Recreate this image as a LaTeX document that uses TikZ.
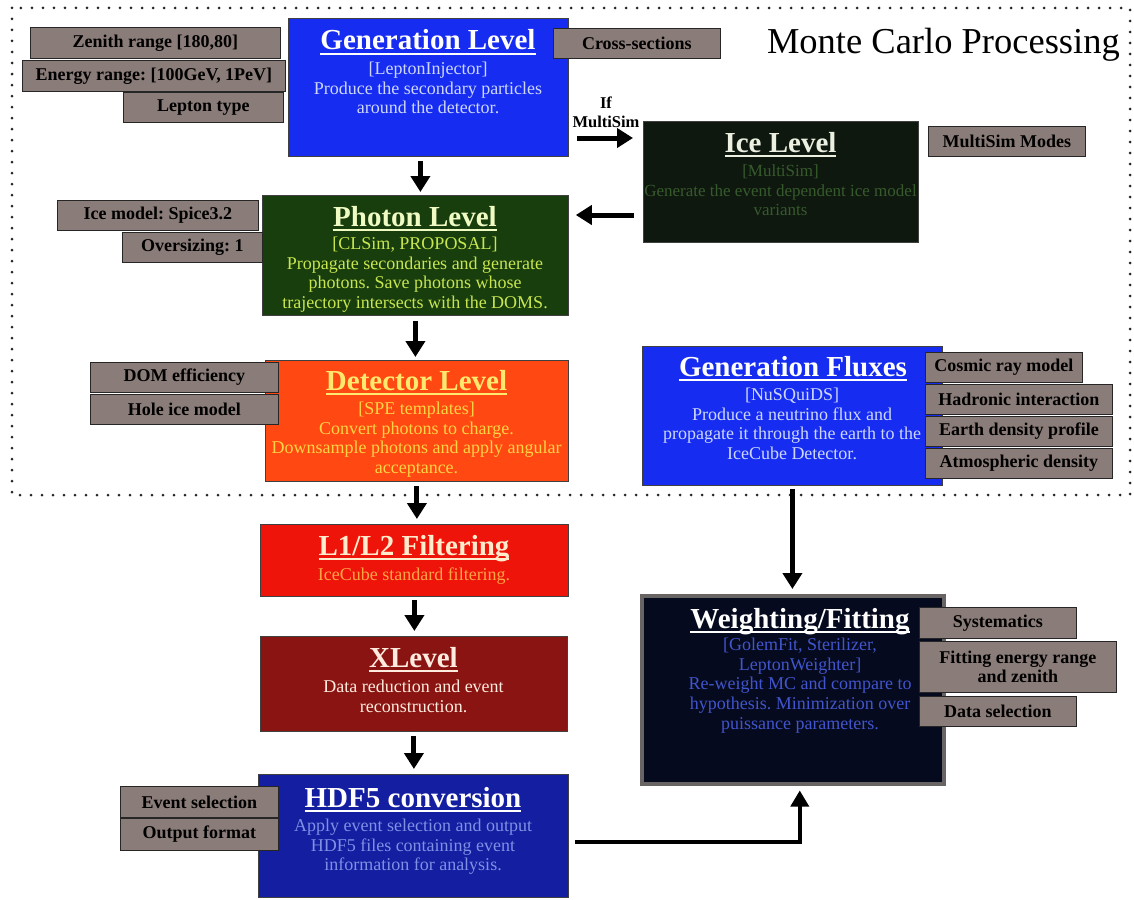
\documentclass[tikz,border=0pt]{standalone}
\usepackage{fontspec}
\setmainfont{Liberation Serif}
\frenchspacing
\usetikzlibrary{arrows.meta}
\definecolor{tagc}{RGB}{138,124,120}
\definecolor{genblue}{RGB}{22,44,240}
\definecolor{genbody}{RGB}{205,215,255}
\definecolor{icebg}{RGB}{14,24,14}
\definecolor{icetl}{RGB}{235,240,225}
\definecolor{icebody}{RGB}{55,90,45}
\definecolor{phbg}{RGB}{24,62,14}
\definecolor{phtl}{RGB}{240,250,195}
\definecolor{phbody}{RGB}{200,230,80}
\definecolor{detbg}{RGB}{255,72,18}
\definecolor{dettl}{RGB}{255,232,110}
\definecolor{detbody}{RGB}{255,212,70}
\definecolor{lbg}{RGB}{238,20,10}
\definecolor{ltl}{RGB}{255,236,205}
\definecolor{lbody}{RGB}{255,165,70}
\definecolor{xbg}{RGB}{138,20,18}
\definecolor{xtl}{RGB}{255,236,222}
\definecolor{hbg}{RGB}{20,30,160}
\definecolor{hbody}{RGB}{125,145,230}
\definecolor{wbg}{RGB}{6,10,30}
\definecolor{wborder}{RGB}{105,100,100}
\definecolor{wbody}{RGB}{65,85,205}
\newcommand\ttlfont{\fontsize{29}{32}\selectfont\bfseries}
\newcommand\bdyfont{\fontsize{18}{19.8}\selectfont}
\newcommand\icefont{\fontsize{17}{19.8}\selectfont}
\newcommand\tagfont{\fontsize{18}{19}\selectfont\bfseries}
\newcommand\ulx[1]{\setbox0=\hbox{#1}\rlap{\copy0}\rule[-4.5pt]{\wd0}{2pt}}
\newcommand\fl{\rule{0pt}{14pt}}
\tikzset{
  boxx/.style={draw=black!75, line width=0.8pt, anchor=north west, inner sep=0pt},
  tagx/.style={draw=black!85, line width=0.8pt, fill=tagc, anchor=north west, font=\tagfont, align=center, inner sep=0pt, text=black},
  ttl/.style={anchor=base, inner sep=0pt, font=\ttlfont},
  bdy/.style={anchor=north, inner sep=0pt, align=center, font=\bdyfont},
  arr/.style={line width=5pt, -{Triangle[width=19pt,length=16pt]}},
  arrthin/.style={line width=3.5pt, -{Triangle[width=18pt,length=16pt]}},
}
\begin{document}
\begin{tikzpicture}[x=1pt,y=-1pt]
\useasboundingbox (0,0) rectangle (1134,899);
% dotted frame
\draw[line width=3pt, line cap=round, dash pattern=on 0pt off 11pt, black!85] (12,8) rectangle (1130,495);
\node[anchor=base east, inner sep=0pt, font=\fontsize{36.5}{40}\selectfont] (mctitle) at (1120,54) {Monte Carlo Processing};

% Generation Level
\node[boxx, fill=genblue, minimum width=280pt, minimum height=138pt] (gen) at (288,18) {};
\node[ttl, text=white] (gent) at (428,50) {\ulx{Generation Level}};
\node[bdy, text=genbody] (genb) at (428,60) {\fl[LeptonInjector]\\Produce the secondary particles\\around the detector.};

% Ice Level
\node[boxx, fill=icebg, minimum width=275pt, minimum height=121pt] (ice) at (643,121) {};
\node[ttl, text=icetl] (icet) at (780.5,152.5) {\ulx{Ice Level}};
\node[bdy, font=\icefont, text=icebody] (iceb) at (780.5,162) {\fl[MultiSim]\\Generate the event dependent ice model\\variants};

% Photon Level
\node[boxx, fill=phbg, minimum width=306pt, minimum height=120pt] (photon) at (262,195) {};
\node[ttl, text=phtl] (photont) at (415,226.5) {\ulx{Photon Level}};
\node[bdy, text=phbody] (photonb) at (415,235) {\fl[CLSim, PROPOSAL]\\Propagate secondaries and generate\\photons. Save photons whose\\trajectory intersects with the DOMS.};

% Detector Level
\node[boxx, fill=detbg, minimum width=303pt, minimum height=121pt] (det) at (265,360) {};
\node[ttl, text=dettl] (dett) at (416.5,390.5) {\ulx{Detector Level}};
\node[bdy, text=detbody] (detb) at (416.5,400) {\fl[SPE templates]\\Convert photons to charge.\\Downsample photons and apply angular\\acceptance.};

% Generation Fluxes
\node[boxx, fill=genblue, minimum width=300pt, minimum height=139pt] (flux) at (642,346) {};
\node[ttl, text=white] (fluxt) at (793,376.5) {\ulx{Generation Fluxes}};
\node[bdy, text=genbody] (fluxb) at (792,386) {\fl[NuSQuiDS]\\Produce a neutrino flux and\\propagate it through the earth to the\\IceCube Detector.};

% L1/L2
\node[boxx, fill=lbg, minimum width=308pt, minimum height=72pt] (lone) at (260,524) {};
\node[ttl, text=ltl] (lonet) at (414,555.5) {\ulx{L1/L2 Filtering}};
\node[bdy, text=lbody] (loneb) at (414,566) {\fl IceCube standard filtering.};

% XLevel
\node[boxx, fill=xbg, minimum width=307pt, minimum height=95pt] (xl) at (260,636) {};
\node[ttl, text=xtl] (xlt) at (413.5,667.5) {\ulx{XLevel}};
\node[bdy, text=xtl] (xlb) at (413.5,678) {\fl Data reduction and event\\reconstruction.};

% HDF5
\node[boxx, fill=hbg, minimum width=310pt, minimum height=123pt] (hdf) at (258,774) {};
\node[ttl, text=white] (hdft) at (413,807.5) {\ulx{HDF5 conversion}};
\node[bdy, text=hbody] (hdfb) at (413,817) {\fl Apply event selection and output\\HDF5 files containing event\\information for analysis.};

% Weighting
\node[boxx, draw=wborder, line width=3.5pt, fill=wbg, minimum width=302pt, minimum height=188pt] (wgt) at (640,594) {};
\node[ttl, text=white] (wgtt) at (800,628) {\ulx{Weighting/Fitting}};
\node[bdy, text=wbody] (wgtb) at (800,636) {\fl[GolemFit, Sterilizer,\\LeptonWeighter]\\Re-weight MC and compare to\\hypothesis. Minimization over\\puissance parameters.};

% tags
\node[tagx, minimum width=250pt, minimum height=31pt] (zen) at (30,27) {Zenith range [180,80]};
\node[tagx, minimum width=263pt, minimum height=31pt] (eng) at (22,60) {Energy range: [100GeV, 1PeV]};
\node[tagx, minimum width=160pt, minimum height=30pt] (lep) at (123,92) {Lepton type};
\node[tagx, minimum width=167pt, minimum height=30pt] (xsec) at (553,28) {Cross-sections};
\node[tagx, minimum width=157pt, minimum height=30pt] (msm) at (928,126) {MultiSim Modes};
\node[tagx, minimum width=201pt, minimum height=30pt] (icem) at (57,200) {Ice model: Spice3.2};
\node[tagx, minimum width=140pt, minimum height=30pt] (ovs) at (122,232) {Oversizing: 1};
\node[tagx, minimum width=188pt, minimum height=30pt] (dome) at (90,362) {DOM efficiency};
\node[tagx, minimum width=188pt, minimum height=30pt] (hole) at (90,394) {Hole ice model};
\node[tagx, minimum width=157pt, minimum height=30pt] (cos) at (925,352) {Cosmic ray model};
\node[tagx, minimum width=187pt, minimum height=30pt] (had) at (925,384) {Hadronic interaction};
\node[tagx, minimum width=187pt, minimum height=30pt] (earth) at (925,416) {Earth density profile};
\node[tagx, minimum width=187pt, minimum height=30pt] (atm) at (925,448) {Atmospheric density};
\node[tagx, minimum width=157pt, minimum height=31pt] (sys) at (919,607) {Systematics};
\node[tagx, minimum width=197pt, minimum height=51pt] (fit) at (919,641) {Fitting energy range\\and zenith};
\node[tagx, minimum width=157pt, minimum height=30pt] (dsel) at (919,696) {Data selection};
\node[tagx, minimum width=158pt, minimum height=31pt] (evs) at (120,786) {Event selection};
\node[tagx, minimum width=158pt, minimum height=32pt] (outf) at (120,818) {Output format};

% If MultiSim label
\node[inner sep=0pt, align=center, font=\fontsize{16.5}{19}\selectfont\bfseries] (ifms) at (606,112) {If\\MultiSim};

% arrows
\coordinate (ga) at ([xshift=-8pt]gen.south);
\draw[arr, shorten <=4pt, shorten >=3pt] (ga) -- (ga |- photon.north);
\coordinate (gb) at (568,138);
\draw[arr, shorten <=9pt, shorten >=10pt] (gb) -- (gb -| ice.west);
\coordinate (ib) at (643,215);
\draw[arr, shorten <=9pt, shorten >=7pt] (ib) -- (ib -| photon.east);
\draw[arr, shorten <=5pt, shorten >=3pt] (photon.south) -- (photon.south |- det.north);
\draw[arr, shorten <=4pt, shorten >=5pt] (det.south) -- (det.south |- lone.north);
\draw[arr, shorten <=3pt, shorten >=5pt] (lone.south) -- (lone.south |- xl.north);
\draw[arr, shorten <=4pt, shorten >=5pt] (xl.south) -- (xl.south |- hdf.north);
\draw[arr, shorten <=3pt, shorten >=5pt] (flux.south) -- (flux.south |- wgt.north);
\coordinate (ha) at (568,842);
\draw[arrthin, shorten <=7pt, shorten >=5pt] (ha) -| ([xshift=7pt]wgt.south);
\end{tikzpicture}
\end{document}
